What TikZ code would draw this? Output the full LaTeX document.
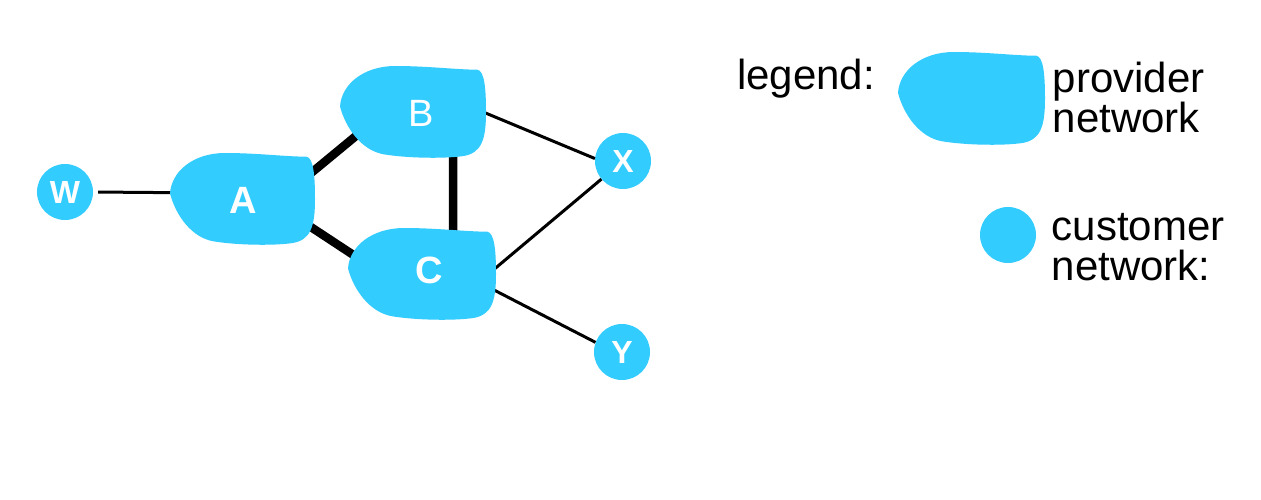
\documentclass[tikz,border=0pt]{standalone}
\usepackage{fontspec}
\setmainfont{Liberation Sans}
\definecolor{netblue}{RGB}{51,204,255}
\tikzset{
  provbox/.style={rectangle, inner sep=0pt, draw=none},
  provtext/.style={text=white, inner sep=0pt, font=\fontsize{38}{38}\selectfont},
  provbold/.style={provtext, font=\fontsize{38}{38}\selectfont\bfseries},
  cust/.style={circle, fill=netblue, minimum size=56pt, inner sep=0pt, text=white,
               font=\fontsize{32}{32}\selectfont\bfseries},
  thinlink/.style={line width=3pt, black},
  thicklink/.style={line width=8.5pt, black},
  legtext/.style={inner sep=0pt, align=left, anchor=base west,
                  font=\fontsize{42}{39.5}\selectfont},
}
\newcommand\blobshape[3]{%
  \begin{scope}[shift={(#1.center)}, x=#2pt, y=-#3pt, shift={(-0.5,-0.5)}]
    \fill[netblue] (0,0.44)
      .. controls (0.01,0.2) and (0.16,0.0) .. (0.38,0.0)
      .. controls (0.6,0.0) and (0.8,0.04) .. (0.94,0.04)
      .. controls (0.99,0.05) and (1.0,0.25) .. (1.0,0.5)
      .. controls (1.0,0.8) and (0.97,0.95) .. (0.84,0.98)
      .. controls (0.7,1.01) and (0.45,1.0) .. (0.3,0.96)
      .. controls (0.15,0.92) and (0.04,0.68) .. (0,0.44) -- cycle;
  \end{scope}}
\begin{document}
\begin{tikzpicture}[x=1pt,y=-1pt]
\useasboundingbox (0,0) rectangle (1261,500);
\fill[white] (0,0) rectangle (1261,500);
% invisible provider nodes
\node[provbox, minimum width=145pt, minimum height=92pt] (A) at (242.5,199) {};
\node[provbox, minimum width=146pt, minimum height=92pt] (B) at (413,112) {};
\node[provbox, minimum width=148pt, minimum height=92pt] (C) at (422,274) {};
\node[provbox, minimum width=147pt, minimum height=93pt] (L) at (971.5,98.5) {};
% customer networks
\node[cust] (W) at (65,192) {W};
\node[cust] (X) at (623,161) {X};
\node[cust] (Y) at (622,352) {Y};
\node[cust] (Lc) at (1008,235) {};
% links
\draw[thinlink, shorten <=5pt, shorten >=-4pt] (W.east) -- (A.175);
\draw[thinlink, shorten <=-4pt] (B.-1) -- (X.175);
\draw[thinlink, shorten <=-4pt] (C.5) -- (X.220);
\draw[thinlink, shorten <=-4pt] (C.-13) -- (Y.160);
\draw[thicklink, shorten <=-14pt, shorten >=-26pt] (A.22.5) -- (B.207.4);
\draw[thicklink, shorten <=-8pt, shorten >=-14pt] (A.-23.2) -- (C.163.2);
\draw[thicklink, shorten <=-4pt, shorten >=-4pt] (B.-49.7) -- (C.56.9);
% blobs
\blobshape{A}{145}{92}
\blobshape{B}{146}{92}
\blobshape{C}{148}{92}
\blobshape{L}{147}{93}
% labels
\node[provbold] (Alab) at (243.5,200.5) {A};
\node[provtext] (Blab) at (421,113.5) {B};
\node[provbold] (Clab) at (429.5,270) {C};
% legend
\node[legtext] (legend) at (737,90) {legend:};
\node[legtext] (provider) at (1052.5,132) {provider\\network};
\node[legtext] (customer) at (1051.5,280) {customer\\network:};
\end{tikzpicture}
\end{document}
